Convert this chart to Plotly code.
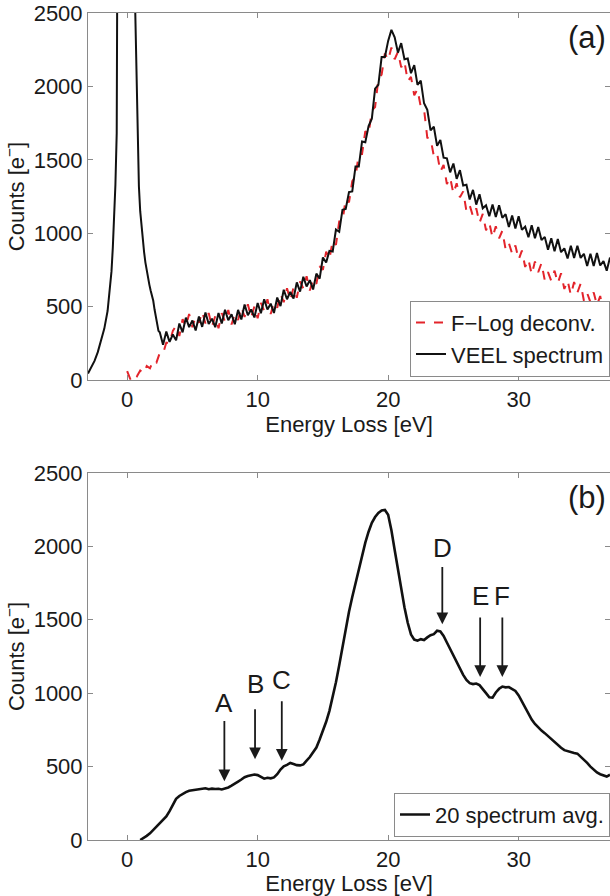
import numpy as np
import plotly.graph_objects as go

# ---------------- Panel (a) data ----------------
# zero-loss peak region of the VEEL spectrum
zlp_energy = [-3.0, -2.75, -2.5, -2.25, -2.0, -1.75, -1.5, -1.35, -1.2, -1.1, -1.0, -0.9,
              -0.8, -0.7, -0.6, -0.4, -0.2, 0.0, 0.2, 0.4, 0.6, 0.7, 0.8, 0.9, 1.0,
              1.1, 1.2, 1.3, 1.4, 1.5, 1.6, 1.7, 1.8, 1.9, 2.0, 2.1, 2.2, 2.3, 2.4]
zlp_counts = [45, 85, 130, 190, 265, 350, 470, 590, 740, 900, 1100, 1330,
              1680, 2150, 2700, 6000, 15000, 22000, 15000, 6000, 2600, 2100, 1650, 1320, 1150,
              1040, 940, 870, 800, 740, 690, 650, 610, 575, 540, 480, 430, 380, 335]

# VEEL spectrum beyond the zero-loss peak, 2.5 .. 37 eV in 0.25 eV steps
veel_start = 2.5
veel_counts = [
    325, 240, 330, 260, 310, 270, 385, 325, 425, 360, 405, 337,
    433, 362, 460, 382, 418, 360, 457, 385, 478, 407, 448, 380,
    478, 412, 515, 441, 481, 426, 525, 455, 550, 480, 520, 457,
    562, 503, 615, 550, 600, 555, 665, 602, 703, 637, 680, 617,
    725, 690, 835, 800, 880, 875, 1025, 1010, 1160, 1165, 1280, 1285,
    1455, 1455, 1625, 1620, 1730, 1780, 1985, 2010, 2200, 2200, 2310, 2385,
    2335, 2230, 2295, 2185, 2190, 2090, 2145, 2010, 2040, 1885, 1840, 1700,
    1725, 1595, 1635, 1515, 1510, 1415, 1475, 1370, 1430, 1325, 1330, 1230,
    1295, 1195, 1265, 1170, 1190, 1115, 1195, 1110, 1190, 1105, 1130, 1043,
    1120, 1032, 1115, 1023, 1045, 972, 1055, 966, 1042, 953, 975, 887,
    965, 877, 960, 871, 897, 828, 915, 832, 915, 832, 860, 777,
    860, 777, 865, 780, 810, 745, 835,
]

# Fourier-log deconvolved spectrum, 0 .. 37 eV in 0.25 eV steps
flog_start = 0.0
flog_counts = [
    60, 5, 40, 25, 65, 45, 95, 80, 135, 120, 185, 180,
    255, 250, 335, 370, 300, 415, 365, 450, 360, 435, 390, 465,
    385, 457, 363, 435, 352, 455, 398, 477, 378, 450, 408, 497,
    430, 516, 426, 501, 420, 525, 470, 550, 450, 527, 492, 588,
    530, 625, 545, 630, 560, 672, 623, 707, 610, 687, 655, 775,
    750, 875, 825, 950, 920, 1080, 1080, 1235, 1210, 1355, 1385, 1540,
    1540, 1695, 1675, 1835, 1860, 2050, 2080, 2225, 2180, 2265, 2185, 2235,
    2130, 2170, 2035, 2065, 1940, 1980, 1860, 1845, 1650, 1645, 1525, 1545,
    1420, 1465, 1335, 1380, 1270, 1340, 1245, 1285, 1150, 1190, 1115, 1170,
    1070, 1132, 1020, 1072, 970, 1048, 965, 1017, 890, 933, 860, 917,
    820, 882, 770, 822, 720, 807, 735, 797, 680, 735, 675, 745,
    660, 727, 620, 677, 580, 667, 595, 657, 540, 592, 530, 597,
    510, 572, 460, 512, 410,
]

# ---------------- Panel (b) data ----------------
avg_start = 1.0
avg_counts = [
    0, 12, 28, 45, 68, 90, 112, 134, 160, 196, 240, 280,
    300, 315, 326, 335, 338, 345, 348, 350, 352, 346, 350, 347,
    349, 344, 350, 358, 370, 382, 398, 412, 428, 436, 440, 446,
    442, 428, 418, 424, 420, 426, 448, 480, 502, 512, 525, 518,
    510, 508, 515, 540, 565, 598, 630, 685, 745, 805, 880, 975,
    1075, 1190, 1320, 1445, 1555, 1655, 1750, 1850, 1940, 2025, 2100, 2160,
    2200, 2228, 2245, 2248, 2215, 2110, 1975, 1840, 1705, 1585, 1480, 1400,
    1365, 1358, 1368, 1362, 1380, 1395, 1402, 1425, 1420, 1390, 1345, 1300,
    1258, 1215, 1170, 1125, 1090, 1068, 1062, 1066, 1055, 1030, 1000, 972,
    970, 1005, 1030, 1045, 1040, 1042, 1030, 1015, 985, 945, 900, 855,
    820, 790, 765, 745, 728, 708, 685, 662, 645, 628, 612, 604,
    598, 592, 588, 568, 550, 525, 500, 478, 460, 448, 442, 432,
    445,
]

# feature markers: label, energy of arrow, arrow tip count, arrow tail count, label count
feat_labels = ["A", "B", "C", "D", "E", "F"]
feat_energy = [7.45, 9.8, 11.85, 24.15, 27.05, 28.75]
feat_tip = [400, 550, 540, 1470, 1110, 1110]
feat_tail = [820, 900, 955, 1870, 1525, 1525]
feat_text_y = [930, 1060, 1090, 1990, 1665, 1665]

x_ticks = [0, 10, 20, 30]
y_ticks = [0, 500, 1000, 1500, 2000, 2500]

step = 0.25
veel_energy = list(zlp_energy) + [veel_start + step * i for i in range(len(veel_counts))]
veel_all = list(zlp_counts) + veel_counts
flog_energy = [flog_start + step * i for i in range(len(flog_counts))]
avg_energy = [avg_start + step * i for i in range(len(avg_counts))]

FONT = "Liberation Sans, Arial, Helvetica, sans-serif"
TXT = "#1a1a1a"
AX = "#8a8a8a"
FS = 22

fig = go.Figure()
fig.add_trace(go.Scatter(x=flog_energy, y=flog_counts, mode="lines", name="F\u2212Log deconv.",
                         line=dict(color="#e3242b", width=2.0, dash="dash"),
                         xaxis="x", yaxis="y", legend="legend"))
fig.add_trace(go.Scatter(x=veel_energy, y=veel_all, mode="lines", name="VEEL spectrum",
                         line=dict(color="#111111", width=2.0),
                         xaxis="x", yaxis="y", legend="legend"))
fig.add_trace(go.Scatter(x=avg_energy, y=avg_counts, mode="lines", name="20 spectrum avg.",
                         line=dict(color="#111111", width=2.6),
                         xaxis="x2", yaxis="y2", legend="legend2"))

axis_common = dict(
    showline=True, linecolor=AX, linewidth=1, mirror="ticks",
    ticks="inside", ticklen=5, tickcolor=AX, tickwidth=1,
    showgrid=False, zeroline=False,
    tickfont=dict(family=FONT, size=FS, color=TXT),
)

dom_a = [0.5562, 1.0]
dom_b = [0.0, 0.4438]

fig.update_layout(
    width=610, height=896,
    margin=dict(l=88, r=0, t=13, b=56),
    paper_bgcolor="white", plot_bgcolor="white",
    font=dict(family=FONT, size=FS, color=TXT),
    xaxis=dict(domain=[0, 1], range=[-3, 37], tickvals=x_ticks, anchor="y",
               title=dict(text="Energy Loss [eV]", standoff=2,
                          font=dict(family=FONT, size=FS, color=TXT)),
               **axis_common),
    yaxis=dict(domain=dom_a, range=[0, 2500], tickvals=y_ticks, anchor="x",
               title=dict(text="Counts [e<sup>\u2212</sup>]", standoff=2,
                          font=dict(family=FONT, size=FS, color=TXT)),
               **axis_common),
    xaxis2=dict(domain=[0, 1], range=[-3, 37], tickvals=x_ticks, anchor="y2",
                title=dict(text="Energy Loss [eV]", standoff=2,
                           font=dict(family=FONT, size=FS, color=TXT)),
                **axis_common),
    yaxis2=dict(domain=dom_b, range=[0, 2500], tickvals=y_ticks, anchor="x2",
                title=dict(text="Counts [e<sup>\u2212</sup>]", standoff=2,
                           font=dict(family=FONT, size=FS, color=TXT)),
                **axis_common),
    legend=dict(x=1.0, xanchor="right", y=dom_a[0] + 0.004, yanchor="bottom",
                bgcolor="white", bordercolor=AX, borderwidth=1,
                font=dict(family=FONT, size=22, color=TXT),
                tracegroupgap=0),
    legend2=dict(x=1.0, xanchor="right", y=dom_b[0] + 0.004, yanchor="bottom",
                 bgcolor="white", bordercolor=AX, borderwidth=1,
                 font=dict(family=FONT, size=22, color=TXT)),
    showlegend=True,
)

annotations = [
    dict(text="(a)", xref="paper", yref="paper", x=0.997, y=dom_a[1] - 0.006,
         xanchor="right", yanchor="top", showarrow=False,
         font=dict(family=FONT, size=31, color=TXT)),
    dict(text="(b)", xref="paper", yref="paper", x=0.997, y=dom_b[1] - 0.006,
         xanchor="right", yanchor="top", showarrow=False,
         font=dict(family=FONT, size=31, color=TXT)),
]
for lab, e, tip, tail, ty in zip(feat_labels, feat_energy, feat_tip, feat_tail, feat_text_y):
    annotations.append(dict(x=e, y=tip, ax=e, ay=tail, xref="x2", yref="y2",
                            axref="x2", ayref="y2", text="", showarrow=True,
                            arrowhead=2, arrowsize=1.3, arrowwidth=1.8, arrowcolor=TXT))
    annotations.append(dict(x=e, y=ty, xref="x2", yref="y2", text=lab, showarrow=False,
                            xanchor="center", yanchor="middle",
                            font=dict(family=FONT, size=26, color=TXT)))
fig.update_layout(annotations=annotations)

fig.write_html("out.html", config={"displayModeBar": False},
               post_script="document.body.style.margin='0px';document.body.style.overflow='hidden';")
